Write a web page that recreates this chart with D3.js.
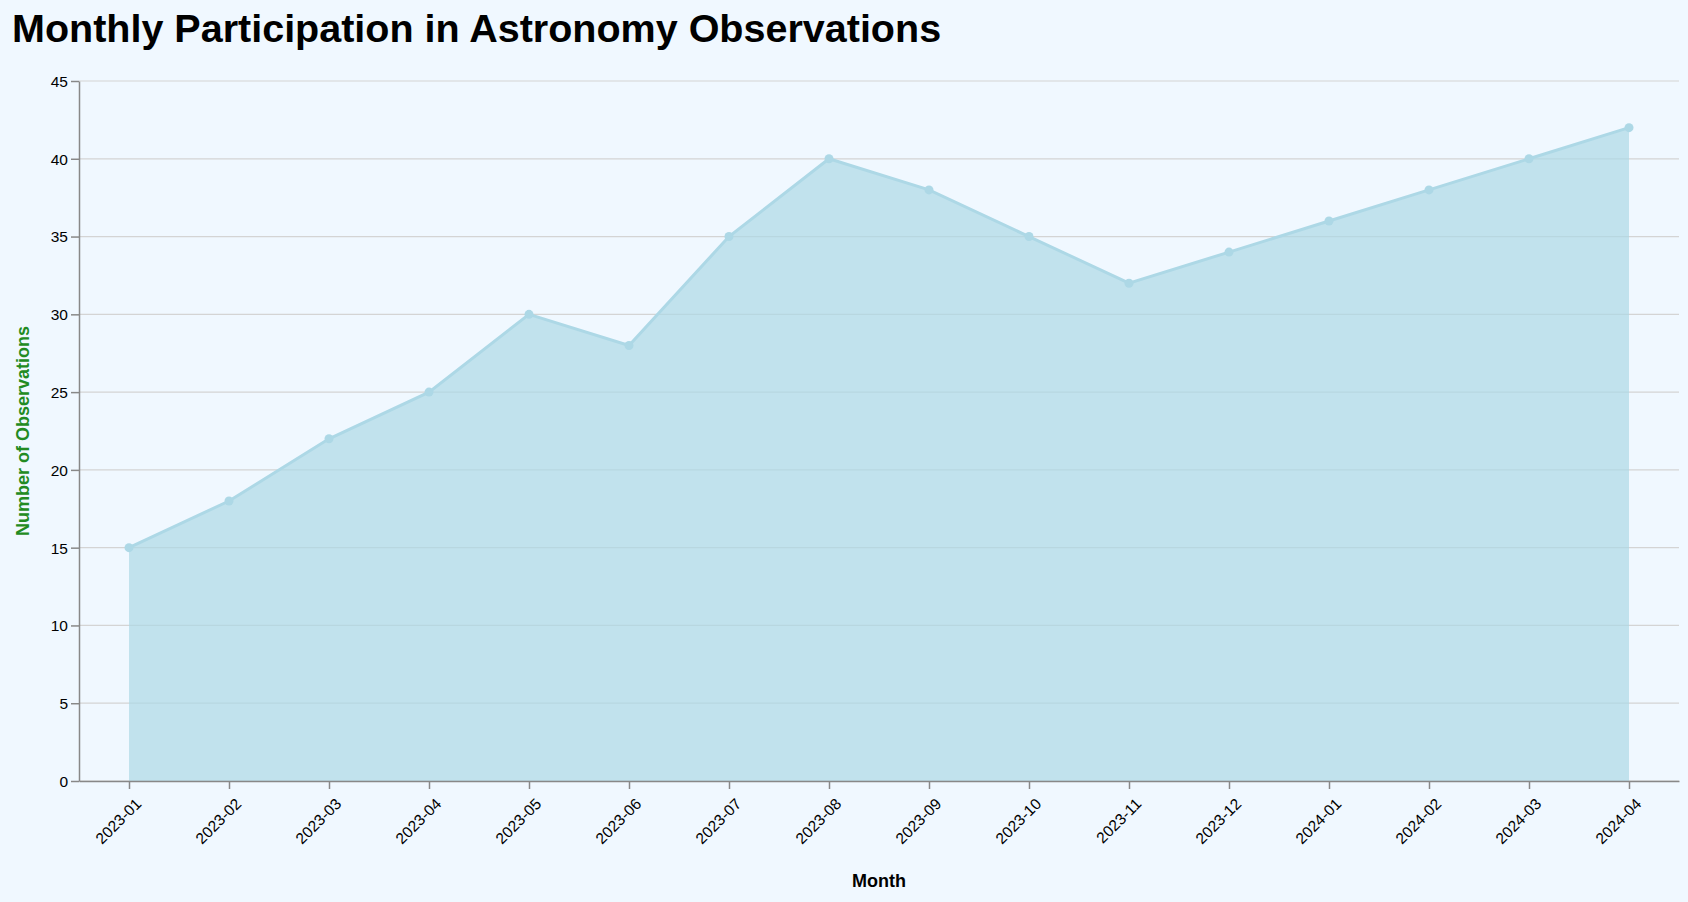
<!DOCTYPE html>
<html><head><meta charset="utf-8">
<script src="https://cdn.jsdelivr.net/npm/d3@7"></script>
<style>body{margin:0;background:#f0f8ff;font-family:"Liberation Sans",Arial,sans-serif;}</style>
</head><body><div id="canvas"></div>
<script>
// Data
var months = ["2023-01","2023-02","2023-03","2023-04","2023-05","2023-06","2023-07","2023-08",
  "2023-09","2023-10","2023-11","2023-12","2024-01","2024-02","2024-03","2024-04"];
var observations = [15,18,22,25,30,28,35,40,38,35,32,34,36,38,40,42];
var yTicks = [0,5,10,15,20,25,30,35,40,45];

var margin = {left: 79, right: 9, top: 81, bottom: 121},
    width = 1688 - margin.left - margin.right,
    height = 902 - margin.top - margin.bottom;

var svg = d3.select("#canvas").append("svg")
    .attr("width", 1688).attr("height", 902);

svg.append("text").attr("x", 12).attr("y", 42)
  .style("font-size", "39.5px").attr("font-weight", "bold")
  .text("Monthly Participation in Astronomy Observations");

var chart = svg.append("g").attr("transform", `translate(${margin.left}, ${margin.top})`);

var x = d3.scalePoint().domain(months).range([0, width]).padding(0.5);
var y = d3.scaleLinear().domain([0, 45]).range([height, 0]);

// grid
chart.selectAll(".grid").data(yTicks).enter().append("line")
  .attr("x1", 0).attr("x2", width)
  .attr("y1", d => y(d)).attr("y2", d => y(d))
  .attr("stroke", "#d4d4d4").attr("stroke-width", 1.2);

var data = months.map((m, i) => ({m: m, v: observations[i]}));

chart.append("path").datum(data)
  .attr("fill", "#add8e6").attr("fill-opacity", 0.7)
  .attr("d", d3.area().x(d => x(d.m)).y0(y(0)).y1(d => y(d.v)));

chart.append("path").datum(data)
  .attr("fill", "none").attr("stroke", "#add8e6").attr("stroke-width", 3)
  .attr("d", d3.line().x(d => x(d.m)).y(d => y(d.v)));

chart.selectAll(".pt").data(data).enter().append("circle")
  .attr("cx", d => x(d.m)).attr("cy", d => y(d.v)).attr("r", 4.5)
  .attr("fill", "#add8e6");

// axes
var xAxis = chart.append("g").attr("transform", `translate(0, ${height})`)
  .call(d3.axisBottom(x).tickSize(8).tickSizeOuter(0));
xAxis.selectAll("text")
  .style("font-size", "15.5px").attr("fill", "#000")
  .attr("text-anchor", "end").attr("dx", 0).attr("dy", 0)
  .attr("transform", "translate(5,16) rotate(-45)");

var yAxis = chart.append("g")
  .call(d3.axisLeft(y).tickValues(yTicks).tickSize(8).tickSizeOuter(0));
yAxis.selectAll("text").style("font-size", "15.5px").attr("fill", "#000").attr("dy", "0.35em");

[xAxis, yAxis].forEach(a => {
  a.select(".domain").attr("stroke", "#888").attr("stroke-width", 1.5);
  a.selectAll(".tick line").attr("stroke", "#888").attr("stroke-width", 1.5);
});

svg.append("text").attr("x", margin.left + width / 2).attr("y", 887)
  .attr("text-anchor", "middle").style("font-size", "18px").attr("font-weight", "bold")
  .text("Month");

svg.append("text").attr("transform", `translate(29, ${margin.top + height / 2}) rotate(-90)`)
  .attr("text-anchor", "middle").style("font-size", "18px").attr("font-weight", "bold")
  .attr("fill", "#228b22").text("Number of Observations");
</script>
</body></html>
